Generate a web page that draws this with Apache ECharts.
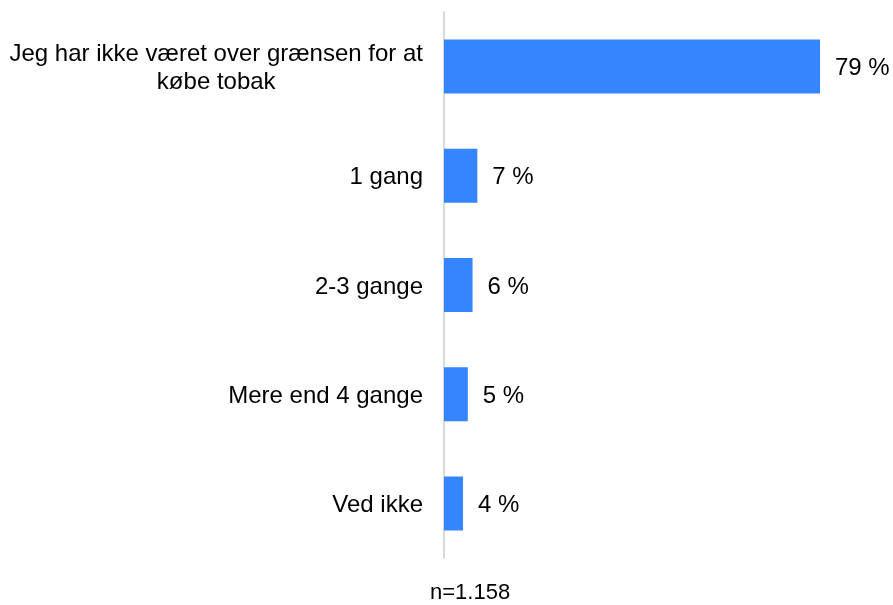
<!DOCTYPE html>
<html>
<head>
<meta charset="utf-8">
<script src="https://cdn.jsdelivr.net/npm/echarts@6/dist/echarts.min.js"></script>
<style>
  html, body { margin: 0; padding: 0; background: #ffffff; }
  #chart { width: 893px; height: 605px; }
</style>
</head>
<body>
<div id="chart"></div>
<script>
// Survey answers, listed top to bottom
const categories = [
  'Jeg har ikke været over grænsen for at\nkøbe tobak',
  '1 gang',
  '2-3 gange',
  'Mere end 4 gange',
  'Ved ikke'
];
const shares = [79, 7, 6, 5, 4];
const sampleNote = 'n=1.158';

const FONT = '"Liberation Sans", Arial, sans-serif';
const FONT_SIZE = 24;

const chart = echarts.init(document.getElementById('chart'), null, { renderer: 'canvas' });

chart.setOption({
  animation: false,
  backgroundColor: '#ffffff',
  grid: { left: 444, right: 73, top: 12, bottom: 47 },
  xAxis: {
    type: 'value',
    min: 0,
    max: 79,
    show: false
  },
  yAxis: {
    type: 'category',
    data: categories,
    inverse: true,
    axisLine: { show: true, lineStyle: { color: '#d9d9d9', width: 2 } },
    axisTick: { show: false },
    splitLine: { show: false },
    axisLabel: {
      margin: 21,
      padding: [4, 0, 0, 0],
      color: '#000000',
      fontFamily: FONT,
      fontSize: FONT_SIZE,
      lineHeight: 28,
      // multi-line labels are centred line by line
      formatter: function (value) {
        const lines = value.split('\n');
        if (lines.length === 1) return value;
        return lines.map(function (l) { return '{c|' + l + '}'; }).join('\n');
      },
      rich: {
        c: {
          align: 'center',
          color: '#000000',
          fontFamily: FONT,
          fontSize: FONT_SIZE,
          lineHeight: 28
        }
      }
    }
  },
  series: [{
    type: 'bar',
    data: shares,
    barWidth: 54,
    itemStyle: { color: '#3586fe' },
    label: {
      show: true,
      position: 'right',
      distance: 15,
      offset: [0, 2],
      color: '#000000',
      fontFamily: FONT,
      fontSize: FONT_SIZE,
      formatter: '{c} %'
    }
  }],
  graphic: [{
    type: 'text',
    left: 430,
    top: 582,
    style: {
      text: sampleNote,
      fill: '#000000',
      font: '22px ' + FONT
    }
  }]
});
</script>
</body>
</html>
